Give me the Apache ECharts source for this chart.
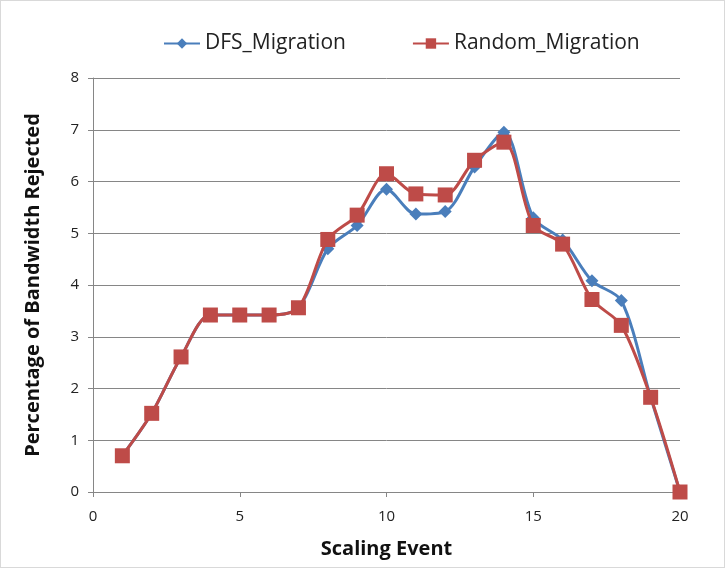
<!DOCTYPE html>
<html><head><meta charset="utf-8">
<script src="https://cdn.jsdelivr.net/npm/echarts@6/dist/echarts.min.js"></script>
<style>html,body{margin:0;padding:0;background:#fff}#c{width:725px;height:568px;box-sizing:border-box;border:1px solid #d9d9d9}</style>
</head><body><div id="c"></div>
<script>
const events = [1,2,3,4,5,6,7,8,9,10,11,12,13,14,15,16,17,18,19,20];
const dfsMigration = [0.7,1.52,2.61,3.42,3.42,3.42,3.56,4.7,5.15,5.85,5.37,5.42,6.28,6.95,5.3,4.87,4.08,3.7,1.83,0];
const randomMigration = [0.7,1.52,2.61,3.42,3.42,3.42,3.56,4.88,5.35,6.15,5.76,5.74,6.41,6.76,5.15,4.79,3.72,3.22,1.83,0];
const xName = 'Scaling Event';
const yName = 'Percentage of Bandwidth Rejected';

const font = 'Open Sans, Liberation Sans, sans-serif';
const chart = echarts.init(document.getElementById('c'));
chart.setOption({
  animation:false,
  legend:{top:27,left:157,itemGap:66,itemWidth:36,itemHeight:13,
    textStyle:{fontFamily:font,fontSize:21,color:'#222'},
    data:['DFS_Migration','Random_Migration']},
  grid:{left:92,right:44,top:77,bottom:75},
  xAxis:{type:'value',min:0,max:20,interval:5,name:xName,nameLocation:'middle',nameGap:47,
    nameTextStyle:{fontFamily:font,fontSize:20,fontWeight:'bold',color:'#111'},
    axisLine:{lineStyle:{color:'#868686'}},axisTick:{show:true,length:5,lineStyle:{color:'#868686'}},
    axisLabel:{fontFamily:font,fontSize:15,color:'#222',margin:17},splitLine:{show:false}},
  yAxis:{type:'value',min:0,max:8,interval:1,name:yName,nameLocation:'middle',nameGap:50,
    nameTextStyle:{fontFamily:font,fontSize:20,fontWeight:'bold',color:'#111'},
    axisLine:{show:true,lineStyle:{color:'#868686'}},axisTick:{show:true,length:5,lineStyle:{color:'#868686'}},
    axisLabel:{fontFamily:font,fontSize:15,color:'#222',margin:14},
    splitLine:{lineStyle:{color:'#868686',width:1}}},
  series:[
    {name:'DFS_Migration',type:'line',smooth:0.3,data:events.map((e,i)=>[e,dfsMigration[i]]),
     symbol:'diamond',symbolSize:13,lineStyle:{width:3,color:'#4a7ebb'},itemStyle:{color:'#4a7ebb'},z:2},
    {name:'Random_Migration',type:'line',smooth:0.3,data:events.map((e,i)=>[e,randomMigration[i]]),
     symbol:'rect',symbolSize:15,lineStyle:{width:3,color:'#be4b48'},itemStyle:{color:'#be4b48'},z:3}
  ]
});
</script></body></html>
